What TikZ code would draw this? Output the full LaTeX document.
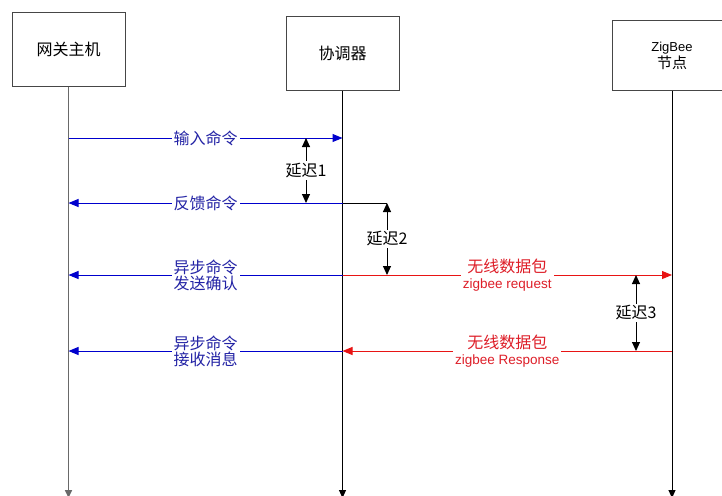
\documentclass[tikz,border=0pt]{standalone}
\usepackage{fontspec}
\setmainfont{Liberation Sans}
\newfontfamily\cjk{Noto Sans CJK SC}
\usetikzlibrary{arrows.meta}
\definecolor{bline}{RGB}{0,0,205}
\definecolor{btext}{RGB}{35,35,165}
\definecolor{rline}{RGB}{232,20,20}
\definecolor{rtext}{RGB}{222,30,40}
\definecolor{boxdraw}{RGB}{70,70,70}
\definecolor{lifegray}{RGB}{105,105,105}
\begin{document}
\begin{tikzpicture}[x=1pt,y=-1pt,
  box/.style={draw=boxdraw, line width=1pt, minimum width=113pt, minimum height=73pt, inner sep=0pt, align=center, font=\cjk\fontsize{16}{17}\selectfont},
  life/.style={line width=1pt, -{Triangle[length=8pt,width=7pt]}},
  bmsg/.style={draw=bline, line width=1pt, -{Triangle[length=10pt,width=8pt]}},
  rmsg/.style={draw=rline, line width=1pt, -{Triangle[length=10pt,width=8pt]}},
  delay/.style={draw=black, line width=1pt, {Triangle[length=9pt,width=8pt]}-{Triangle[length=9pt,width=8pt]}},
  blab/.style={fill=white, inner sep=2pt, text=btext, align=center, font=\cjk\fontsize{16}{16}\selectfont},
  rlab/.style={fill=white, inner sep=2pt, text=rtext, align=center, font=\fontsize{13.5}{16.5}\selectfont},
  dlab/.style={fill=white, inner sep=2pt, text=black, font=\cjk\fontsize{16}{17}\selectfont}
]
\clip (0,0) rectangle (722,495);
\fill[white] (0,0) rectangle (722,495);

% participant boxes
\node[box] (A) at (68.5,49.5) {网关主机};
\node[box] (B) at (342.5,53.5) {协调器};
\node[box, minimum width=120pt, minimum height=69pt, font=\cjk\fontsize{15}{17}\selectfont] (C) at (672,55.5)
  {{\fontspec{Liberation Sans}\fontsize{13}{15}\selectfont ZigBee}\\节点};

% lifeline ends
\coordinate (Aend) at (68.5,498);
\coordinate (Bend) at (342.5,498);
\coordinate (Cend) at (672,498);

\draw[life, draw=lifegray, line width=1.6pt] (A.south) -- (Aend);
\draw[life] (B.south) -- (Bend);
\draw[life] (C.south) -- (Cend);

% points on lifelines
\coordinate (A1) at (68.5,138);
\coordinate (B1) at (342.5,138);
\coordinate (A2) at (68.5,203);
\coordinate (B2) at (342.5,203);
\coordinate (A3) at (68.5,275);
\coordinate (B3) at (342.5,275);
\coordinate (C3) at (672,275);
\coordinate (A4) at (68.5,351);
\coordinate (B4) at (342.5,351);
\coordinate (C4) at (672,351);

% delay markers
\coordinate (d1a) at (306,138);
\coordinate (d1b) at (306,203);
\coordinate (d2a) at (387,203);
\coordinate (d2b) at (387,275);
\coordinate (d3a) at (636,275);
\coordinate (d3b) at (636,351);

% messages
\draw[bmsg] (A1) -- node[blab] {输入命令} (B1);
\draw[bmsg] (B2) -- node[blab] {反馈命令} (A2);
\draw[line width=1pt] (B2) -- (d2a);
\draw[bmsg] (B3) -- node[blab] {异步命令\\发送确认} (A3);
\draw[rmsg] (B3) -- node[rlab] {{\cjk\fontsize{16}{16.5}\selectfont 无线数据包}\\zigbee request} (C3);
\draw[bmsg] (B4) -- node[blab] {异步命令\\接收消息} (A4);
\draw[rmsg] (C4) -- node[rlab] {{\cjk\fontsize{16}{16.5}\selectfont 无线数据包}\\zigbee Response} (B4);

% delays
\draw[delay] (d1a) -- node[dlab] {延迟1} (d1b);
\draw[delay] (d2a) -- node[dlab] {延迟2} (d2b);
\draw[delay] (d3a) -- node[dlab] {延迟3} (d3b);
\end{tikzpicture}
\end{document}
